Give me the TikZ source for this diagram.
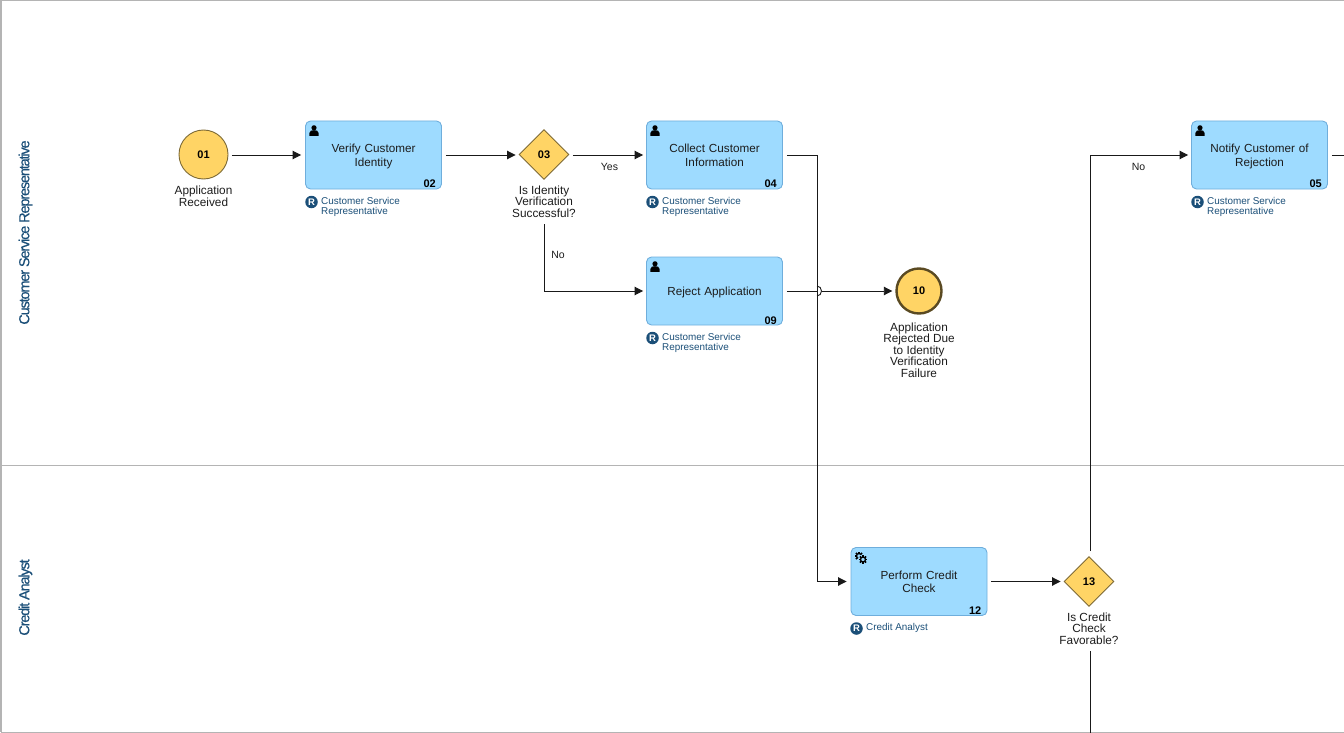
\documentclass[tikz,border=0pt]{standalone}
\usepackage{fontspec}
\setmainfont{Liberation Sans}
\usetikzlibrary{arrows.meta,shapes.geometric,calc}
\definecolor{lanegray}{HTML}{B4B4B4}
\definecolor{taskfill}{HTML}{9EDBFF}
\definecolor{taskedge}{HTML}{6FAEDC}
\definecolor{gatefill}{HTML}{FFD465}
\definecolor{gateedge}{HTML}{7D6A36}
\definecolor{endedge}{HTML}{5A4A22}
\definecolor{rolecol}{HTML}{1B4F78}
\definecolor{inkcol}{HTML}{1C1C1C}
\tikzset{
  x=1pt,y=-1pt,
  every node/.style={font=\fontsize{12}{12}\selectfont,text=inkcol},
  tasknode/.style={draw=taskedge,fill=taskfill,line width=0.9pt,rounded corners=5pt,minimum width=136pt,minimum height=68pt,inner sep=0pt,align=center,text width=110pt,font=\fontsize{11.7}{13.5}\selectfont},
  startev/.style={circle,draw=gateedge,fill=gatefill,line width=0.9pt,minimum size=49pt,inner sep=0pt,font=\fontsize{11}{11}\selectfont\bfseries,text=black},
  endev/.style={circle,draw=endedge,fill=gatefill,line width=2.4pt,minimum size=45pt,inner sep=0pt,font=\fontsize{11}{11}\selectfont\bfseries,text=black},
  gatenode/.style={diamond,aspect=1,draw=gateedge,fill=gatefill,line width=0.9pt,minimum size=50pt,inner sep=0pt,font=\fontsize{11}{11}\selectfont\bfseries,text=black},
  lbltext/.style={align=center,inner sep=0pt,font=\fontsize{11.8}{11.5}\selectfont},
  numtag/.style={inner sep=0pt,font=\fontsize{11}{11}\selectfont\bfseries,text=black},
  rolebadge/.style={circle,fill=rolecol,minimum size=12.5pt,inner sep=0pt,text=white,font=\fontsize{9.5}{9.5}\selectfont\bfseries},
  roletext/.style={anchor=north west,align=left,inner sep=0pt,text=rolecol,font=\fontsize{9.9}{10}\selectfont},
  flowlbl/.style={inner sep=0pt,font=\fontsize{10.5}{10.5}\selectfont},
  flow/.style={draw=black!90,line width=0.9pt,-{Triangle[length=8.5pt,width=8.5pt]}},
  flowplain/.style={draw=black!90,line width=0.9pt},
  lanelbl/.style={rotate=90,inner sep=0pt,text=rolecol,font=\fontsize{14.5}{14.5}\selectfont\addfontfeature{LetterSpace=-8,FakeBold=0.4}},
  laneline/.style={draw=lanegray,line width=1pt},
}
\newcommand{\tasktop}{\rule{0pt}{10pt}}
\newcommand{\tasktopd}{\rule{0pt}{12.4pt}}
\newcommand{\personicon}[2]{%
  \fill[black] (#1,#2-3.2) circle (2.6pt);
  \fill[black] (#1-4.6,#2+4.8) -- (#1-4.6,#2+2) .. controls (#1-4.6,#2-0.6) and (#1-2,#2-0.8) .. (#1,#2-0.8) .. controls (#1+2,#2-0.8) and (#1+4.6,#2-0.6) .. (#1+4.6,#2+2) -- (#1+4.6,#2+4.8) -- cycle;
}
\newcommand{\gearone}[2]{%
  \fill[taskfill] (#1,#2) circle (5.2pt);
  \foreach \gearang in {0,45,...,315}{\draw[black,line width=1.5pt] ($(#1,#2)+(\gearang:2.6)$) -- ($(#1,#2)+(\gearang:4.4)$);}
  \draw[black,line width=1.3pt] (#1,#2) circle (2.5pt);
}
\begin{document}
\begin{tikzpicture}
\useasboundingbox (0,0) rectangle (1344,733);
% lanes
\draw[laneline,line width=1.4pt] (0.8,0.5) -- (0.8,732);
\draw[laneline] (1344,0.5) -- (1,0.5);
\draw[laneline] (1,732) -- (1344,732);
\draw[laneline] (1,465) -- (1344,465);
\node[lanelbl] (laneA) at (25.5,232.5) {Customer Service  Representative};
\node[lanelbl] (laneB) at (25.5,597.5) {Credit Analyst};
% events, tasks, gateways
\node[startev] (e01) at (203.5,154.5) {01};
\node[lbltext,anchor=north] (l01) at (203.5,185.5) {Application\\[0.5pt]Received};
\node[tasknode] (t02) at (373.5,155) {\tasktopd Verify Customer\\[0.5pt]Identity};
\node[gatenode] (g03) at (544,154.5) {03};
\node[lbltext,anchor=north] (l03) at (544,185.5) {Is Identity\\Verification\\Successful?};
\node[tasknode] (t04) at (714.5,155) {\tasktop Collect Customer\\[0.5pt]Information};
\node[tasknode] (t09) at (714.5,291) {\tasktopd Reject Application};
\node[endev] (e10) at (919,291) {10};
\node[lbltext,anchor=north] (l10) at (919,322.5) {Application\\Rejected Due\\to Identity\\Verification\\Failure};
\node[tasknode] (t12) at (919,581.5) {\tasktop Perform Credit\\[-0.5pt]Check};
\node[gatenode] (g13) at (1089,581.5) {13};
\node[lbltext,anchor=north] (l13) at (1089,612.5) {Is Credit\\Check\\Favorable?};
\node[tasknode] (t05) at (1259.5,155) {\tasktopd Notify Customer of\\[0.5pt]Rejection};
% numbers
\node[numtag,anchor=south east] (n02) at ($(t02.south east)+(-6,-1.5)$) {02};
\node[numtag,anchor=south east] (n04) at ($(t04.south east)+(-6,-1.5)$) {04};
\node[numtag,anchor=south east] (n09) at ($(t09.south east)+(-6,-0.5)$) {09};
\node[numtag,anchor=south east] (n12) at ($(t12.south east)+(-6,-1.5)$) {12};
\node[numtag,anchor=south east] (n05) at ($(t05.south east)+(-6,-1.5)$) {05};
% task icons
\personicon{314}{131}
\personicon{655}{131}
\personicon{655}{267}
\personicon{1200}{131}
\gearone{859}{556}
\gearone{863}{559.5}
% roles
\node[rolebadge] (b02) at (311.5,202) {R};
\node[roletext] (r02) at (321,197) {Customer Service\\Representative};
\node[rolebadge] (b04) at (652.5,202) {R};
\node[roletext] (r04) at (662,197) {Customer Service\\Representative};
\node[rolebadge] (b09) at (652.5,338) {R};
\node[roletext] (r09) at (662,333) {Customer Service\\Representative};
\node[rolebadge] (b12) at (856.5,628.5) {R};
\node[roletext] (r12) at (866,623.5) {Credit Analyst};
\node[rolebadge] (b05) at (1197.5,202) {R};
\node[roletext] (r05) at (1207,197) {Customer Service\\Representative};
% free ends
\coordinate (out05) at (1344,155);
\coordinate (out13) at (1090,733);
\coordinate (bendA) at (817,155);
\coordinate (jumpA) at (817,291);
\coordinate (in09) at (544.5,224);
\coordinate (out13up) at (1090,551);
\coordinate (out13dn) at (1090,651);
% connectors
\draw[flow,shorten <=3.5pt,shorten >=4pt] (e01.east |- t02.west) -- (t02.west);
\draw[flow,shorten <=4pt,shorten >=3pt] (t02.east) -- (t02.east -| g03.west);
\draw[flow,shorten <=3.5pt,shorten >=3pt] (g03.east |- t04.west) -- (t04.west);
\draw[flow,shorten >=3pt] (in09) |- (t09.west);
\draw[flow,shorten <=4pt,shorten >=4pt] (t04.east) -| (bendA) |- (t12.west);
\draw[flowplain,shorten <=4pt] (t09.east) -- (jumpA);
\draw[flowplain] (jumpA) ++(0,-5) arc[start angle=90,end angle=-90,x radius=4.5pt,y radius=5pt];
\draw[flow,shorten >=3pt] (jumpA) ++(4.5,0) -- (e10.west);
\draw[flow,shorten <=4pt,shorten >=3pt] (t12.east) -- (g13.west);
\draw[flow,shorten >=3pt] (out13up) |- (t05.west);
\draw[flowplain,shorten <=4pt] (t05.east) -- (out05);
\draw[flowplain] (out13dn) -- (out13);
% flow labels
\node[flowlbl] (yes03) at (609.5,166.5) {Yes};
\node[flowlbl] (no03) at (558,255) {No};
\node[flowlbl] (no13) at (1138.5,167) {No};
\end{tikzpicture}
\end{document}
